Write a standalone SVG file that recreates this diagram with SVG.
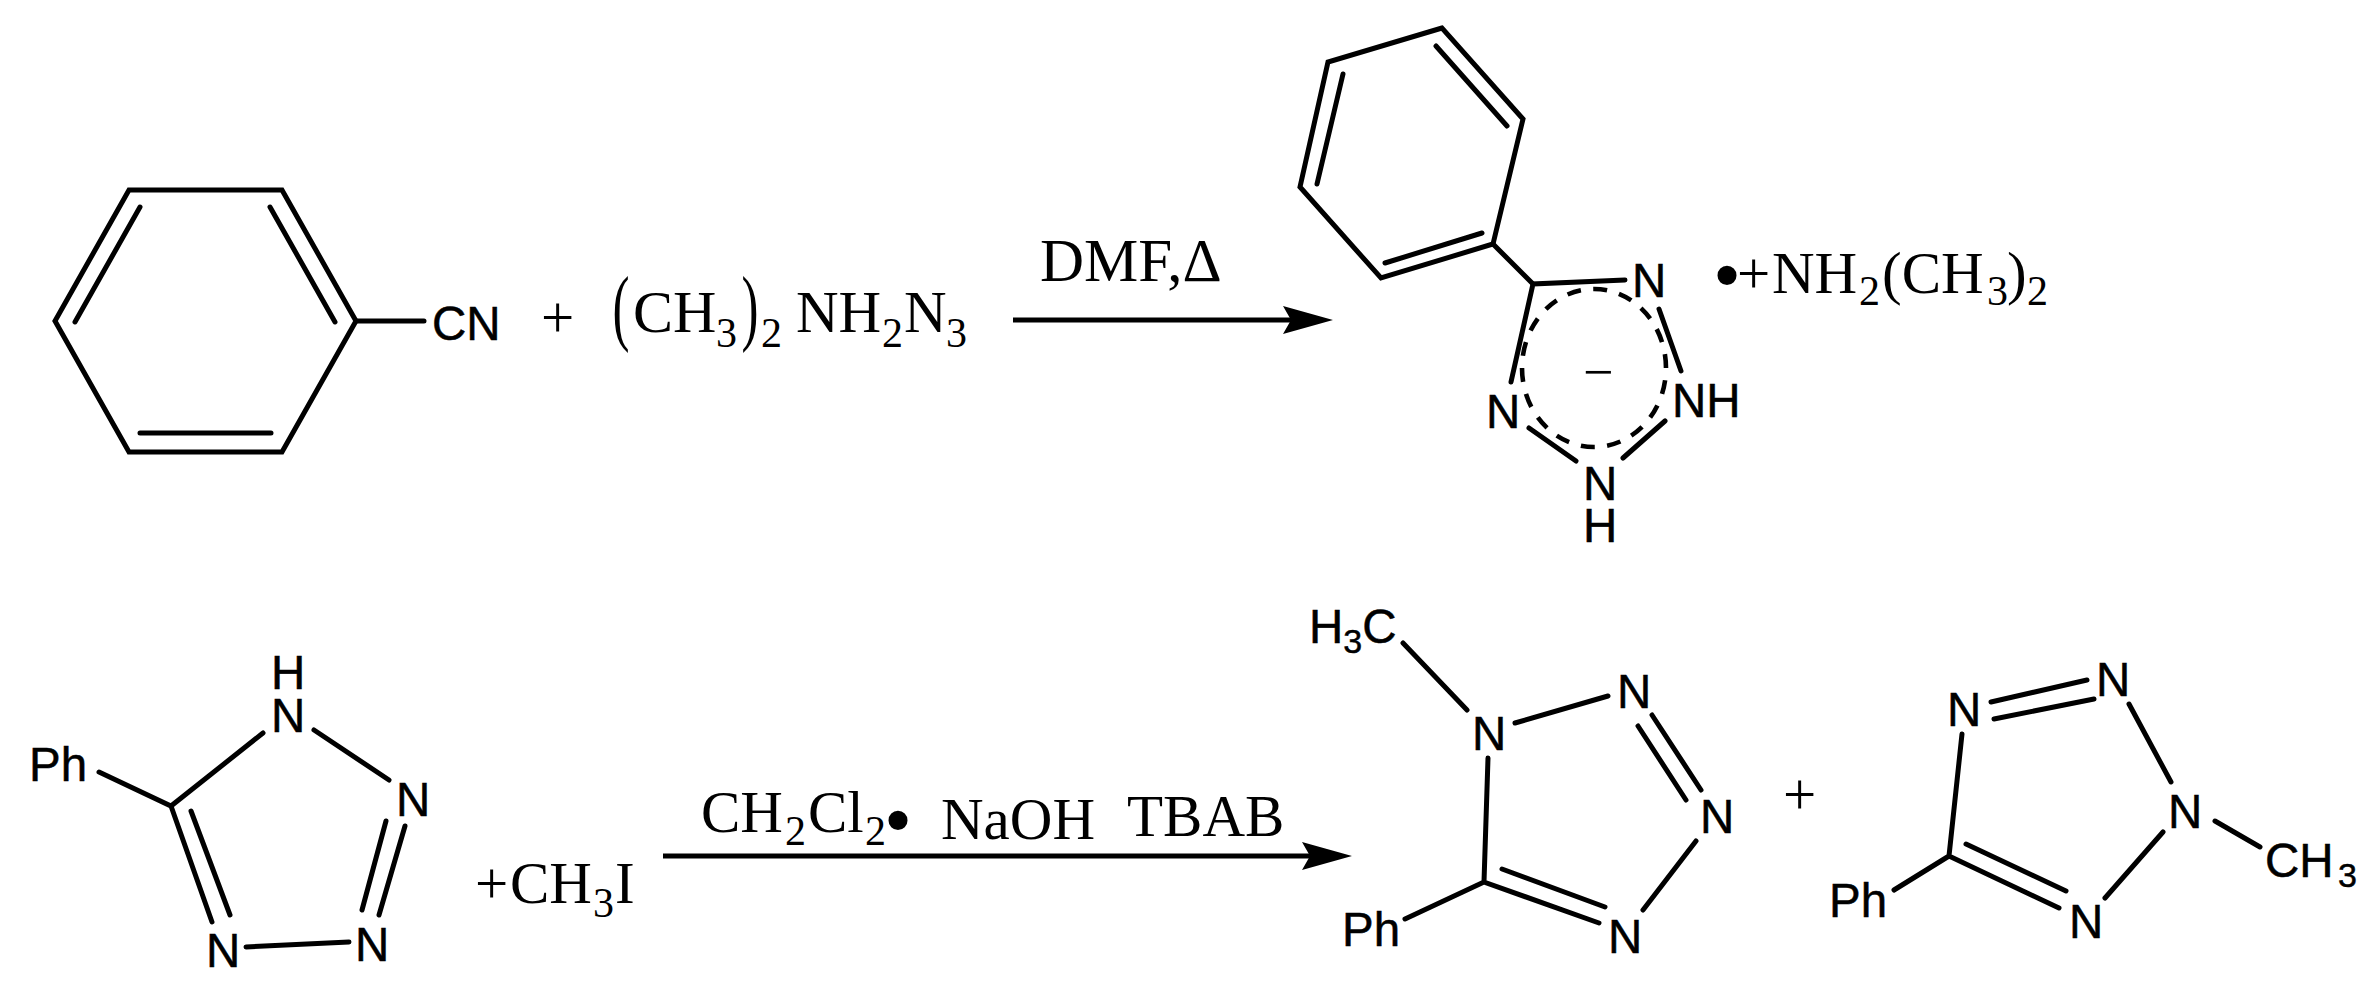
<svg xmlns="http://www.w3.org/2000/svg" width="2380" height="996" viewBox="0 0 2380 996">
<defs>
<style>
.b{fill:none;stroke:#000;stroke-width:5;stroke-linecap:round;stroke-linejoin:miter}
.s{font-family:"Liberation Sans",Arial,sans-serif;font-size:47.5px;fill:#000;stroke:#000;stroke-width:.5px}
.t{font-family:"Liberation Serif","Times New Roman",serif;font-size:59px;fill:#000}
.ss{font-size:34px}
.ts{font-size:42px}
.arrow{fill:none;stroke:#000;stroke-width:5}
.head{fill:#000;stroke:none}
</style>
<marker id="ah" markerUnits="userSpaceOnUse" markerWidth="52" markerHeight="30" refX="8" refY="14" orient="auto"><path class="head" d="M0 0L50 14L0 28L8 14Z"/></marker>
</defs>
<rect width="2380" height="996" fill="#fff"/>
<g id="connectors">
<path class="arrow" d="M1013 320H1291" marker-end="url(#ah)"/>
<path class="arrow" d="M663 856H1310" marker-end="url(#ah)"/>
</g>
<g id="benzonitrile">
<path class="b" d="M129 190H282L356 321L282 452H129L55 321Z"/>
<path class="b" d="M140 207L75 322M270 207L335 322M140 433H271M356 321H424"/>
<text class="s" x="432" y="340">CN</text>
</g>
<text id="plus1" class="t" x="541" y="337">+</text>
<text id="azide" class="t"><tspan x="612.5" y="335" font-size="85" textLength="17" lengthAdjust="spacingAndGlyphs">(</tspan><tspan x="633" y="332" font-size="60">CH</tspan><tspan x="716" y="347" class="ts">3</tspan><tspan x="741.5" y="335" font-size="85" textLength="17" lengthAdjust="spacingAndGlyphs">)</tspan><tspan x="761" y="347" class="ts">2</tspan><tspan x="796" y="332">NH</tspan><tspan x="882" y="347" class="ts">2</tspan><tspan x="904" y="332">N</tspan><tspan x="946" y="347" class="ts">3</tspan></text>
<text id="cond1" class="t" x="1040" y="281" style="font-size:61px">DMF,Δ</text>
<g id="tetrazolate">
<path class="b" d="M1442 28L1328 62L1300 187L1381 278L1493 244L1523 119Z"/>
<path class="b" d="M1436 46L1507 126M1343 74L1317 184M1385 263L1482 233M1493 244L1533 284"/>
<path class="b" d="M1625 280L1533 284L1511 382M1659 309L1681 371M1665 421L1623 458M1529 428L1576 461"/>
<ellipse cx="1594" cy="368" rx="72" ry="79" fill="none" stroke="#000" stroke-width="4.6" pathLength="18" stroke-dasharray="0.53 0.47" stroke-dashoffset="0.53"/>
<text class="s" x="1632" y="297">N</text>
<text class="s" x="1672" y="417">NH</text>
<text class="s" x="1486" y="428">N</text>
<text class="s" x="1583"><tspan x="1583" y="500">N</tspan><tspan x="1583" y="542">H</tspan></text>
<text class="t" x="1583" y="390" style="font-size:54px">−</text>
</g>
<text id="cation" class="t"><tspan x="1713" y="302" font-size="80">•</tspan><tspan x="1737" y="293">+</tspan><tspan x="1772" y="293">NH</tspan><tspan x="1859" y="305" class="ts">2</tspan><tspan x="1882" y="293">(CH</tspan><tspan x="1987" y="305" class="ts">3</tspan><tspan x="2007" y="293">)</tspan><tspan x="2027" y="305" class="ts">2</tspan></text>
<g id="phenyltetrazole">
<path class="b" d="M99 772L171 806L263 733M314 730L389 780M405 826L379 915M386 821L362 910M349 942L246 947M171 806L212 922M191 811L230 915"/>
<text class="s" x="29" y="781">Ph</text>
<text class="s" x="271"><tspan x="271" y="689">H</tspan><tspan x="271" y="732">N</tspan></text>
<text class="s" x="396" y="816">N</text>
<text class="s" x="355" y="961">N</text>
<text class="s" x="206" y="967">N</text>
</g>
<text id="mei" class="t"><tspan x="475" y="903">+</tspan><tspan x="510" y="903">CH</tspan><tspan x="593" y="917" class="ts">3</tspan><tspan x="615" y="903">I</tspan></text>
<text id="cond2" class="t"><tspan x="701" y="832">CH</tspan><tspan x="785" y="845" class="ts">2</tspan><tspan x="808" y="832">Cl</tspan><tspan x="865" y="845" class="ts">2</tspan><tspan x="884" y="847" font-size="80">•</tspan><tspan x="941" y="839">NaOH</tspan><tspan x="1127" y="836">TBAB</tspan></text>
<g id="isomer1">
<path class="b" d="M1403 643L1467 710M1515 723L1608 696M1652 715L1701 790M1638 726L1686 800M1696 841L1643 910M1488 758L1484 882L1599 923M1502 869L1605 907M1405 919L1484 882"/>
<text class="s" x="1309" y="643">H<tspan class="ss" y="653">3</tspan><tspan y="643">C</tspan></text>
<text class="s" x="1472" y="750">N</text>
<text class="s" x="1617" y="708">N</text>
<text class="s" x="1700" y="833">N</text>
<text class="s" x="1608" y="953">N</text>
<text class="s" x="1342" y="946">Ph</text>
</g>
<text id="plus2" class="t" x="1783" y="814">+</text>
<g id="isomer2">
<path class="b" d="M1991 702L2087 680M1994 719L2094 699M2129 704L2171 782M2215 821L2260 847M2163 832L2105 898M1962 734L1949 856L2059 908M1966 844L2066 891M1894 890L1949 856"/>
<text class="s" x="1947" y="726">N</text>
<text class="s" x="2096" y="696">N</text>
<text class="s" x="2168" y="828">N</text>
<text class="s" x="2265" y="877">CH<tspan class="ss" x="2338" y="887">3</tspan></text>
<text class="s" x="2069" y="938">N</text>
<text class="s" x="1829" y="917">Ph</text>
</g>
</svg>
